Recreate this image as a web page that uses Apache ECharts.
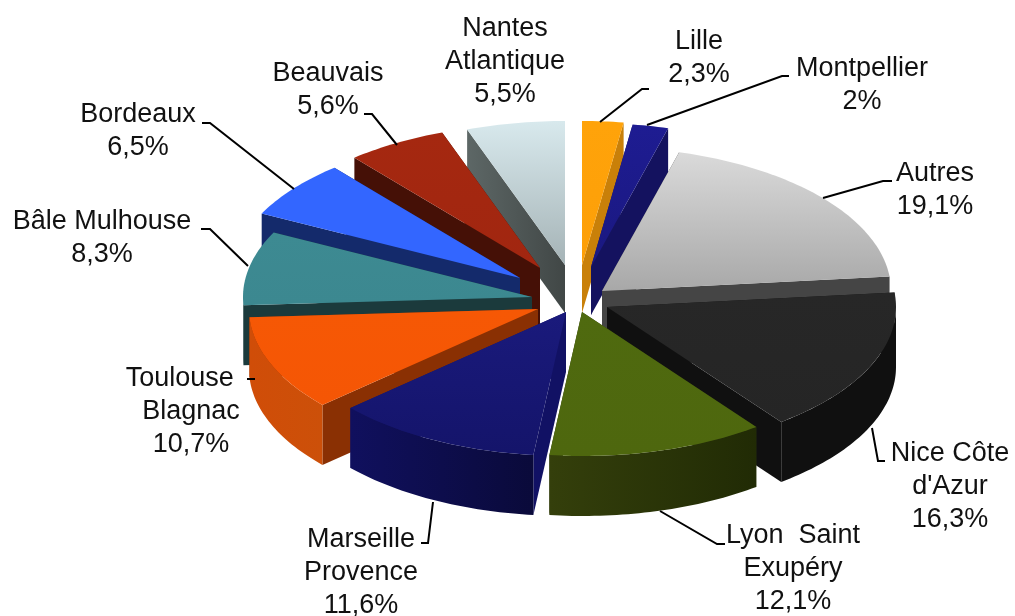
<!DOCTYPE html>
<html>
<head>
<meta charset="utf-8">
<title>Aéroports</title>
<script src="https://cdn.jsdelivr.net/npm/echarts@6/dist/echarts.min.js"></script>
<style>
    html, body { margin: 0; padding: 0; background: #fff; }
    #chart { width: 1015px; height: 616px; }
</style>
</head>
<body>
<div id="chart"></div>
<script>
// clockwise from 12 o'clock
var categories = ['Lille', 'Montpellier', 'Autres', "Nice Côte\nd'Azur", 'Lyon  Saint\nExupéry', 'Marseille\nProvence',
    'Toulouse   \nBlagnac', 'Bâle Mulhouse', 'Bordeaux', 'Beauvais', 'Nantes\nAtlantique'];
var values = [2.3, 2, 19.1, 16.3, 12.1, 11.6, 10.7, 8.3, 6.5, 5.6, 5.5];

// top face [from, to], radial wall [left, right], outer wall [left, right]
var topColors = [['#ffa30a', '#fd9f08'], ['#1e1c92', '#1a1880'], ['#dadada', '#a8a8a8'], ['#272727', '#252525'],
    ['#4f6a0f', '#4e670e'], ['#1a1a7c', '#14146a'], ['#f65805', '#f55605'], ['#3d8a92', '#3c8890'],
    ['#3366ff', '#3366ff'], ['#a52810', '#a12610'], ['#d8e9ed', '#a5b3b6']];
var sideColors = [['#c98009', '#c98009'], ['#14125f', '#14125f'], ['#454545', '#454545'], ['#101010', '#101010'],
    ['#2c380a', '#2c380a'], ['#111164', '#111164'], ['#8a3003', '#8a3003'], ['#1b3a3c', '#1b3a3c'],
    ['#142a6b', '#142a6b'], ['#451006', '#451006'], ['#5d6766', '#414746']];
var outerColors = [['#c98009', '#c98009'], ['#14125f', '#14125f'], ['#454545', '#454545'], ['#101010', '#101010'],
    ['#343f0b', '#212b05'], ['#10105e', '#0a0a3a'], ['#d04d08', '#cc5009'], ['#1b3a3c', '#1b3a3c'],
    ['#142a6b', '#142a6b'], ['#451006', '#451006'], ['#4f5857', '#4f5857']];

// how far each slice was dragged out of the pie, in px
var pullX = [12, 21, 32, 37, 12, -4, -32, -38, -50, -30, -5];
var pullY = [-23, -21, 3, 19, 24, 24, 21, 9, -10, -20, -23];
// back to front
var paintOrder = [10, 0, 1, 2, 9, 8, 7, 3, 6, 4, 5];

// label centre x, y and leader line
var labelX = [699, 862, 935, 950, 793, 361, 191, 102, 138, 328, 505];
var labelY = [58, 85, 190, 487, 569, 573, 412, 238, 131, 90, 62];
var leaders = [
    [[600, 122], [642, 89], [649, 89]],
    [[647, 125], [782, 76], [789, 76]],
    [[823, 198], [883, 181], [892, 181]],
    [[872, 428], [878, 461], [885, 461]],
    [[660, 511], [717, 544], [725, 544]],
    [[433, 502], [428, 543], [421, 543]],
    [[255, 379], [247, 379]],
    [[248, 266], [210, 229], [201, 229]],
    [[294, 189], [210, 123], [202, 123]],
    [[397, 145], [372, 114], [364, 114]],
    null
];

var centerX = 570, centerY = 288, radiusX = 289, radiusY = 144;

var total = 0;
for (var i = 0; i < values.length; i++) {
    total += values[i];
}

function project(apex, angle, drop) {
    return [apex[0] + radiusX * Math.sin(angle), apex[1] - radiusY * Math.cos(angle) + drop];
}

function arcPoints(apex, from, to, drop) {
    var pts = [];
    var n = Math.max(2, Math.ceil((to - from) / 0.02));
    for (var k = 0; k <= n; k++) {
        pts.push(project(apex, from + (to - from) * k / n, drop));
    }
    return pts;
}

function vGradient(c) {
    return new echarts.graphic.LinearGradient(0, 0, 0, 1, [{offset: 0, color: c[0]}, {offset: 1, color: c[1]}]);
}

function hGradient(c) {
    return new echarts.graphic.LinearGradient(0, 0, 1, 0, [{offset: 0, color: c[0]}, {offset: 1, color: c[1]}]);
}

function renderSlice(params, api) {
    var idx = params.dataIndex;
    var before = 0;
    for (var i = 0; i < idx; i++) {
        before += values[i];
    }
    var from = before / total * Math.PI * 2;
    var to = (before + api.value(0)) / total * Math.PI * 2;
    var mid = (from + to) / 2;
    var apex = [centerX + pullX[idx], centerY + pullY[idx]];
    // the far slices look thinner
    var depth = Math.cos(mid) > 0.9 ? 48 : 60;
    var children = [];
    var base = paintOrder.indexOf(idx) * 10;

    // radial walls
    var ends = [from, to];
    for (var e = 0; e < 2; e++) {
        var a = project(apex, ends[e], 0);
        var b = project(apex, ends[e], depth);
        children.push({
            type: 'polygon', z2: base,
            shape: {points: [apex, a, b, [apex[0], apex[1] + depth]]},
            style: {fill: hGradient(sideColors[idx])}
        });
    }

    // outer wall, only the part facing us
    var wallFrom = Math.max(from, Math.PI / 2);
    var wallTo = Math.min(to, Math.PI * 1.5);
    if (wallTo > wallFrom) {
        var upper = arcPoints(apex, wallFrom, wallTo, 0);
        var lower = arcPoints(apex, wallFrom, wallTo, depth).reverse();
        children.push({
            type: 'polygon', z2: base + 1,
            shape: {points: upper.concat(lower)},
            style: {fill: hGradient(outerColors[idx])}
        });
    }

    // top face
    children.push({
        type: 'polygon', z2: base + 2,
        shape: {points: [apex].concat(arcPoints(apex, from, to, 0))},
        style: {fill: vGradient(topColors[idx])}
    });

    return {type: 'group', children: children};
}

function percentText(v) {
    return String(v).replace('.', ',') + '%';
}

function buildGraphics() {
    var list = [];
    for (var i = 0; i < categories.length; i++) {
        if (leaders[i]) {
            list.push({
                type: 'polyline', z: 10, silent: true,
                shape: {points: leaders[i]},
                style: {stroke: '#000', lineWidth: 2, fill: null}
            });
        }
        list.push({
            type: 'text', z: 10, silent: true,
            x: labelX[i], y: labelY[i],
            style: {
                text: categories[i] + '\n' + percentText(values[i]),
                fill: '#111',
                font: '27px "Liberation Sans", Arial, sans-serif',
                lineHeight: 33,
                align: 'center',
                verticalAlign: 'middle'
            }
        });
    }
    return list;
}

var myChart = echarts.init(document.getElementById('chart'), null, {renderer: 'canvas'});
var seriesData = [];
for (var j = 0; j < values.length; j++) {
    seriesData.push({name: categories[j], value: [values[j]]});
}
myChart.setOption({
    animation: false,
    backgroundColor: '#fff',
    series: [{
        type: 'custom',
        coordinateSystem: 'none',
        silent: true,
        renderItem: renderSlice,
        data: seriesData
    }],
    graphic: buildGraphics()
});
</script>
</body>
</html>
